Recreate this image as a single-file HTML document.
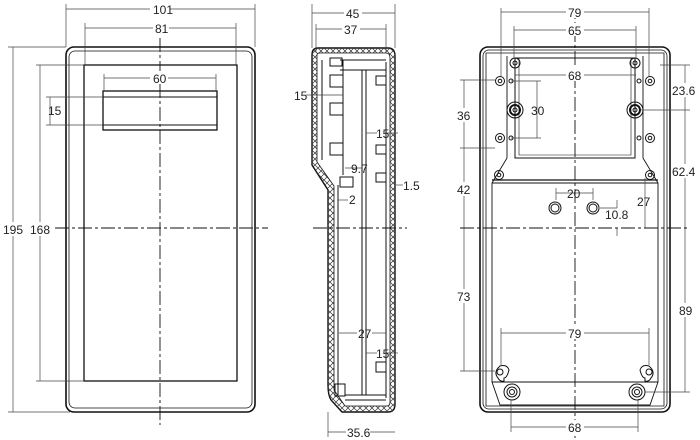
<!DOCTYPE html>
<html><head><meta charset="utf-8"><style>
html,body{margin:0;padding:0;background:#fff;width:700px;height:440px;overflow:hidden}
svg{display:block}
text{font-family:"Liberation Sans",sans-serif;font-size:12px;fill:#222}
</style></head><body>
<svg width="700" height="440" viewBox="0 0 700 440" xmlns="http://www.w3.org/2000/svg">
<defs>
<pattern id="zz" width="6" height="6" patternUnits="userSpaceOnUse">
<path d="M0 0L6 6M6 0L0 6" stroke="#333" stroke-width="0.7"/>
</pattern>
</defs>
<g fill="none" stroke="#111" stroke-width="1">
<!-- LEFT VIEW -->
<rect x="66" y="47" width="189" height="365" rx="8" stroke-width="1.6"/>
<rect x="69" y="51" width="183" height="357" rx="6" stroke-width="0.8"/>
<rect x="84" y="65" width="153" height="316" stroke-width="1.3"/>
<rect x="103" y="91" width="114" height="39" stroke-width="1.3"/>
<line x1="103" y1="97" x2="217" y2="97"/>
<line x1="103" y1="125" x2="217" y2="125"/>
<g stroke-width="0.7" stroke="#444">
<line x1="66" y1="4" x2="66" y2="47"/><line x1="255" y1="4" x2="255" y2="47"/>
<line x1="66" y1="9" x2="255" y2="9"/>
<line x1="85" y1="23" x2="85" y2="65"/><line x1="236" y1="23" x2="236" y2="65"/>
<line x1="85" y1="28" x2="236" y2="28"/>
<line x1="104" y1="74" x2="104" y2="91"/><line x1="216" y1="74" x2="216" y2="91"/>
<line x1="104" y1="78" x2="216" y2="78"/>
<line x1="46" y1="97" x2="103" y2="97"/><line x1="46" y1="125" x2="103" y2="125"/>
<line x1="50" y1="97" x2="50" y2="125"/>
<line x1="8" y1="47" x2="66" y2="47"/><line x1="8" y1="412" x2="70" y2="412"/>
<line x1="13" y1="47" x2="13" y2="412"/>
<line x1="36" y1="65" x2="84" y2="65"/><line x1="36" y1="381" x2="84" y2="381"/>
<line x1="40" y1="65" x2="40" y2="381"/>
</g>
<g stroke-dasharray="14,3,3,3" stroke-width="0.9">
<line x1="55" y1="228" x2="268" y2="228"/>
<line x1="160" y1="38" x2="160" y2="425"/>
</g>

<!-- SIDE VIEW -->
<path d="M318 48 H388 Q395 48 395 56 V404 Q395 412 388 412 H342 L331 400 Q328 395 328 385 V190 L312 165 V55 Q312 48 318 48 Z" stroke-width="1.4"/>
<path d="M318 48 H388 Q395 48 395 56 V404 Q395 412 388 412 H342 L331 400 Q328 395 328 385 V190 L312 165 V55 Q312 48 318 48 Z M317 55 V162 L334 186 V390 L345 406 H387 Q390 406 390 402 V58 Q390 53 386 53 H320 Q317 53 317 55 Z" fill="url(#zz)" fill-rule="evenodd" stroke="none"/>
<path d="M317 55 V162 L334 186 V390 L345 406 H387 Q390 406 390 402 V58 Q390 53 386 53 H320 Q317 53 317 55 Z" stroke-width="0.8"/>
<line x1="322" y1="60" x2="322" y2="160"/>
<line x1="343" y1="60" x2="343" y2="175"/>
<line x1="338" y1="185" x2="338" y2="395"/>
<line x1="362" y1="70" x2="362" y2="395"/>
<line x1="366" y1="70" x2="366" y2="395"/>
<line x1="386" y1="62" x2="386" y2="398"/>
<line x1="340" y1="60" x2="386" y2="60"/>
<line x1="340" y1="70" x2="386" y2="70"/>
<line x1="345" y1="395" x2="386" y2="395"/>
<line x1="345" y1="400" x2="386" y2="400"/>
<rect x="330" y="58" width="12" height="8"/>
<rect x="330" y="75" width="13" height="12"/>
<rect x="330" y="103" width="13" height="12"/>
<rect x="330" y="143" width="13" height="12"/>
<rect x="340" y="177" width="13" height="10"/>
<rect x="376" y="76" width="10" height="9"/>
<rect x="376" y="145" width="10" height="9"/>
<rect x="376" y="173" width="10" height="9"/>
<rect x="376" y="362" width="10" height="10"/>
<rect x="335" y="384" width="10" height="12"/>
<g stroke-width="0.7" stroke="#444">
<line x1="312" y1="4" x2="312" y2="48"/><line x1="395" y1="4" x2="395" y2="48"/>
<line x1="312" y1="13" x2="395" y2="13"/>
<line x1="316" y1="24" x2="316" y2="53"/><line x1="386" y1="24" x2="386" y2="53"/>
<line x1="316" y1="29" x2="386" y2="29"/>
<line x1="328" y1="412" x2="328" y2="437"/>
<line x1="328" y1="432" x2="395" y2="432"/>
<line x1="306" y1="95" x2="343" y2="95"/>
<line x1="345" y1="168" x2="362" y2="168"/>
<line x1="338" y1="200" x2="348" y2="200"/>
<line x1="366" y1="133" x2="377" y2="133"/><line x1="386" y1="133" x2="398" y2="133"/>
<line x1="366" y1="353" x2="377" y2="353"/><line x1="386" y1="353" x2="398" y2="353"/>
<line x1="339" y1="333" x2="357" y2="333"/><line x1="372" y1="333" x2="386" y2="333"/>
<line x1="396" y1="185" x2="403" y2="185"/>
</g>
<g stroke-dasharray="14,3,3,3" stroke-width="0.9">
<line x1="313" y1="228" x2="407" y2="228"/>
</g>

<!-- RIGHT VIEW -->
<rect x="480" y="47" width="190" height="365" rx="8" stroke-width="1.6"/>
<rect x="483" y="50" width="184" height="359" rx="6" stroke-width="0.8"/>
<path d="M486 53 H664 V406 H486 Z" stroke-width="0.8"/>
<path d="M507 56 V158 L492 183 V382 L500 405 H650 L658 382 V183 L643 158 V56" stroke-width="0.9"/>
<line x1="492" y1="180" x2="658" y2="180" stroke-width="1.3"/>
<line x1="492" y1="183" x2="658" y2="183"/>
<line x1="492" y1="382" x2="658" y2="382"/>
<rect x="515" y="58" width="120" height="100" stroke-width="1"/>
<path d="M519 58 V155 H631 V58" stroke-width="0.6"/>
<g stroke-width="1">
<circle cx="515" cy="63" r="5"/><circle cx="515" cy="63" r="2"/>
<circle cx="635" cy="63" r="5"/><circle cx="635" cy="63" r="2"/>
<circle cx="500" cy="81" r="4.5"/><circle cx="500" cy="81" r="1.8"/>
<circle cx="650" cy="81" r="4.5"/><circle cx="650" cy="81" r="1.8"/>
<circle cx="500" cy="138" r="4.5"/><circle cx="500" cy="138" r="1.8"/>
<circle cx="650" cy="138" r="4.5"/><circle cx="650" cy="138" r="1.8"/>
<circle cx="499" cy="175" r="4.5"/><circle cx="499" cy="175" r="1.8"/>
<circle cx="650" cy="175" r="4.5"/><circle cx="650" cy="175" r="1.8"/>
<circle cx="511" cy="81" r="2"/><circle cx="639" cy="81" r="2"/>
<circle cx="511" cy="138" r="2"/><circle cx="639" cy="138" r="2"/>
<circle cx="515" cy="110" r="8"/><circle cx="515" cy="110" r="5" stroke-width="2"/><circle cx="515" cy="110" r="2"/>
<circle cx="635" cy="110" r="8"/><circle cx="635" cy="110" r="5" stroke-width="2"/><circle cx="635" cy="110" r="2"/>
<circle cx="555" cy="208" r="6"/><circle cx="555" cy="208" r="4"/>
<circle cx="593" cy="208" r="6"/><circle cx="593" cy="208" r="4"/>
<path d="M500 366 Q507 364 509 370 Q507 378 504 378 L504 381 Q500 382 498 378 Q493 372 500 366Z"/><circle cx="500" cy="372" r="3"/>
<path d="M649 366 Q642 364 640 370 Q642 378 645 378 L645 381 Q649 382 651 378 Q656 372 649 366Z"/><circle cx="649" cy="372" r="3"/>
<circle cx="512" cy="392" r="8"/><circle cx="512" cy="392" r="5"/><circle cx="512" cy="392" r="2.5"/>
<circle cx="637" cy="392" r="8"/><circle cx="637" cy="392" r="5"/><circle cx="637" cy="392" r="2.5"/>
</g>
<g stroke-width="0.7" stroke="#444">
<line x1="501" y1="8" x2="501" y2="76"/><line x1="649" y1="8" x2="649" y2="76"/>
<line x1="501" y1="12" x2="649" y2="12"/>
<line x1="514" y1="26" x2="514" y2="58"/><line x1="636" y1="26" x2="636" y2="58"/>
<line x1="514" y1="30" x2="636" y2="30"/>
<line x1="515" y1="75" x2="636" y2="75"/>
<line x1="511" y1="81" x2="541" y2="81"/><line x1="511" y1="138" x2="541" y2="138"/>
<line x1="537" y1="81" x2="537" y2="138"/>
<line x1="460" y1="80" x2="495" y2="80"/><line x1="460" y1="148" x2="495" y2="148"/>
<line x1="460" y1="371" x2="495" y2="371"/>
<line x1="464" y1="80" x2="464" y2="371"/>
<line x1="660" y1="65" x2="690" y2="65"/><line x1="640" y1="110" x2="690" y2="110"/>
<line x1="645" y1="392" x2="690" y2="392"/>
<line x1="685" y1="65" x2="685" y2="392"/>
<line x1="556" y1="188" x2="556" y2="200"/><line x1="593" y1="188" x2="593" y2="200"/>
<line x1="556" y1="193" x2="593" y2="193"/>
<line x1="600" y1="208" x2="617" y2="208"/>
<line x1="617" y1="200" x2="617" y2="208"/><line x1="617" y1="228" x2="617" y2="236"/>
<line x1="645" y1="178" x2="645" y2="228"/>
<line x1="501" y1="328" x2="501" y2="365"/><line x1="649" y1="328" x2="649" y2="365"/>
<line x1="501" y1="333" x2="649" y2="333"/>
<line x1="511" y1="400" x2="511" y2="432"/><line x1="638" y1="400" x2="638" y2="432"/>
<line x1="511" y1="427" x2="638" y2="427"/>
</g>
<g stroke-dasharray="14,3,3,3" stroke-width="0.9">
<line x1="460" y1="228" x2="690" y2="228"/>
<line x1="575" y1="5" x2="575" y2="438"/>
</g>
</g>
<g>
<rect x="150" y="2" width="20" height="13" fill="#fff"/><text x="153" y="14">101</text>
<rect x="153" y="21" width="16" height="13" fill="#fff"/><text x="155" y="33">81</text>
<rect x="150" y="71" width="18" height="13" fill="#fff"/><text x="153" y="83">60</text>
<text x="48" y="115">15</text>
<rect x="2" y="222" width="22" height="14" fill="#fff"/><text x="3" y="234">195</text>
<rect x="28" y="222" width="24" height="14" fill="#fff"/><text x="30" y="234">168</text>

<rect x="344" y="6" width="18" height="13" fill="#fff"/><text x="346" y="18">45</text>
<rect x="342" y="22" width="18" height="13" fill="#fff"/><text x="344" y="34">37</text>
<rect x="346" y="425" width="24" height="13" fill="#fff"/><text x="347" y="437">35.6</text>
<text x="294" y="100">15</text>
<text x="351" y="173">9.7</text>
<text x="349" y="204">2</text>
<text x="403" y="190">1.5</text>
<text x="376" y="138">15</text>
<text x="358" y="338">27</text>
<text x="376" y="358">15</text>

<rect x="566" y="5" width="18" height="13" fill="#fff"/><text x="568" y="17">79</text>
<rect x="566" y="23" width="18" height="13" fill="#fff"/><text x="568" y="35">65</text>
<rect x="566" y="68" width="18" height="13" fill="#fff"/><text x="568" y="80">68</text>
<text x="531" y="115">30</text>
<rect x="455" y="108" width="18" height="14" fill="#fff"/><text x="457" y="120">36</text>
<rect x="455" y="182" width="18" height="14" fill="#fff"/><text x="457" y="194">42</text>
<rect x="455" y="289" width="18" height="14" fill="#fff"/><text x="457" y="301">73</text>
<rect x="672" y="83" width="28" height="14" fill="#fff"/><text x="672" y="95">23.6</text>
<rect x="672" y="164" width="28" height="14" fill="#fff"/><text x="672" y="176">62.4</text>
<rect x="678" y="303" width="18" height="14" fill="#fff"/><text x="679" y="315">89</text>
<text x="567" y="198">20</text>
<text x="605" y="219">10.8</text>
<text x="637" y="206">27</text>
<rect x="566" y="326" width="18" height="13" fill="#fff"/><text x="568" y="338">79</text>
<rect x="566" y="420" width="18" height="13" fill="#fff"/><text x="568" y="432">68</text>
</g>
</svg>
</body></html>
